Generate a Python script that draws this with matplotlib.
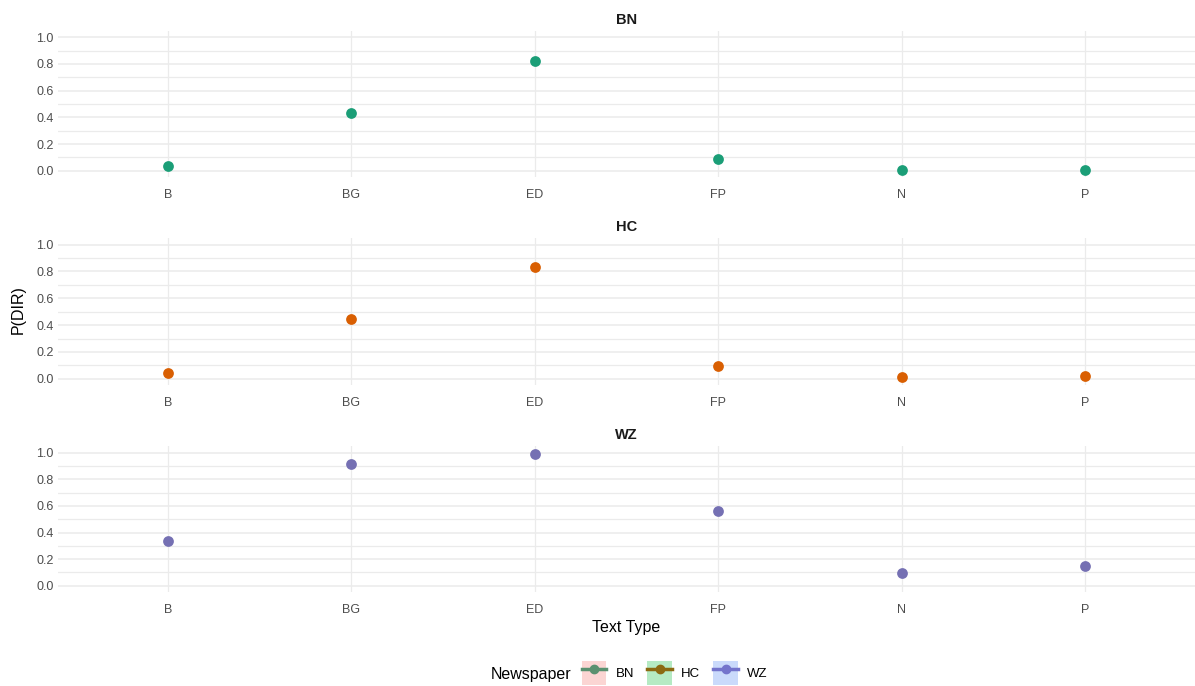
import matplotlib.pyplot as plt
from matplotlib.lines import Line2D
from matplotlib.patches import Patch
from matplotlib.legend_handler import HandlerTuple
import numpy as np

plt.rcParams['font.family'] = ['Liberation Sans', 'DejaVu Sans']

text_types = ['B', 'BG', 'ED', 'FP', 'N', 'P']
papers = ['BN', 'HC', 'WZ']

p_bn = [0.035, 0.43, 0.82, 0.085, 0.008, 0.008]
p_hc = [0.045, 0.445, 0.83, 0.095, 0.01, 0.02]
p_wz = [0.336, 0.918, 0.988, 0.559, 0.093, 0.146]

colors = ['#1B9E77', '#D95F02', '#7570B3']
key_bg = ['#FBD5D3', '#B5EAC3', '#CADAFB']
key_line = ['#5A9170', '#8C6A12', '#7474CC']

W, H = 1195, 686
fig = plt.figure(figsize=(W / 100, H / 100), dpi=100)

# panel geometry in pixels (top, bottom)
panels = [(30.6, 177.4), (238.0, 385.4), (446.0, 592.4)]
left_px = 58

x = np.arange(len(text_types))
for i, (vals, name) in enumerate(zip([p_bn, p_hc, p_wz], papers)):
    top, bot = panels[i]
    ax = fig.add_axes([left_px / W, 1 - bot / H, (W - left_px) / W, (bot - top) / H])
    ax.scatter(x, vals, s=60, color=colors[i], zorder=3, linewidths=0)
    ax.set_xlim(-0.6, len(text_types) - 0.4)
    ax.set_ylim(-0.05, 1.05)
    ax.set_xticks(x)
    ax.set_xticklabels(text_types)
    ax.set_yticks(np.arange(0, 1.01, 0.2))
    ax.set_yticklabels(['%.1f' % v for v in np.arange(0, 1.01, 0.2)])
    ax.set_yticks(np.arange(0.1, 1.0, 0.2), minor=True)
    ax.grid(True, which='major', axis='y', color='#EBEBEB', lw=1.1)
    ax.grid(True, which='major', axis='x', color='#EBEBEB', lw=0.9)
    ax.grid(True, which='minor', axis='y', color='#EBEBEB', lw=0.9)
    ax.set_axisbelow(True)
    for s in ax.spines.values():
        s.set_visible(False)
    ax.tick_params(which='both', length=0, labelsize=9, labelcolor='#4D4D4D')
    ax.tick_params(axis='x', pad=8)
    ax.tick_params(axis='y', pad=3)
    ax.set_title(name, fontsize=10.5, fontweight='bold', pad=5, color='#1A1A1A')
    if i == 2:
        ax.set_xlabel('Text Type', fontsize=11.5, labelpad=3)

fig.text(18 / W, 1 - 310 / H, 'P(DIR)', rotation=90, ha='center', va='center', fontsize=11.5)

# legend at the bottom
fig.text(491 / W, 1 - 674 / H, 'Newspaper', ha='left', va='center', fontsize=11.5)
handles = []
for i in range(3):
    bg = Patch(facecolor=key_bg[i], edgecolor='none')
    ln = Line2D([], [], color=key_line[i], lw=2.5, marker='o', markersize=6)
    handles.append((bg, ln))
fig.legend(handles, papers, loc='center left', bbox_to_anchor=(582 / W, 1 - 673 / H),
           ncol=3, frameon=False, fontsize=9.5, handlelength=1.85, handleheight=2.4,
           handletextpad=0.7, columnspacing=1.0, borderpad=0, borderaxespad=0,
           handler_map={tuple: HandlerTuple(ndivide=1, pad=0)})

fig.savefig('out.png', dpi=100)
